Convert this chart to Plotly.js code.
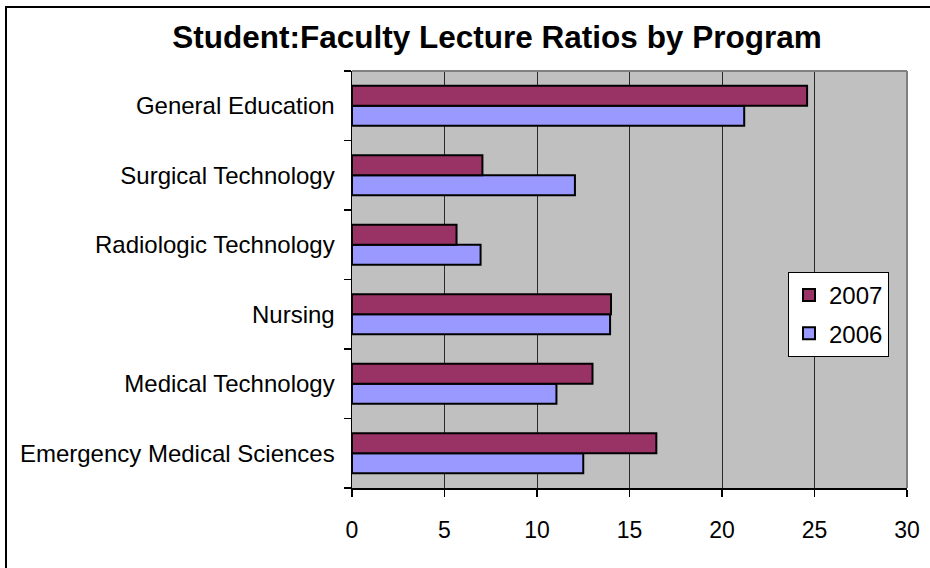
<!DOCTYPE html>
<html>
<head>
<meta charset="utf-8">
<script src="https://cdn.plot.ly/plotly-3.0.1.min.js"></script>
<style>
html,body{margin:0;padding:0;background:#fff;}
#chart{position:absolute;left:0;top:0;width:930px;height:568px;}
#frame{position:absolute;left:5px;top:6px;width:940px;height:580px;border-left:2px solid #000;border-top:2px solid #000;pointer-events:none;}
</style>
</head>
<body>
<div id="chart"></div>
<div id="frame"></div>
<script>
const categories = ["Emergency Medical Sciences","Medical Technology","Nursing","Radiologic Technology","Surgical Technology","General Education"];
const values2006 = [12.5, 11.05, 13.95, 6.95, 12.05, 21.2];
const values2007 = [16.45, 13.0, 14.0, 5.65, 7.05, 24.6];
const xTicks = [0, 5, 10, 15, 20, 25, 30];

const FONT = "'Liberation Sans', Arial, sans-serif";

const traces = [
  {type:'bar', orientation:'h', name:'2006', y:categories, x:values2006,
   legendgroup:'b', legendrank:2,
   marker:{color:'#9999FF', line:{color:'#000', width:2}}},
  {type:'bar', orientation:'h', name:'2007', y:categories, x:values2007,
   legendgroup:'a', legendrank:1,
   marker:{color:'#993366', line:{color:'#000', width:2}}}
];

const layout = {
  width:930, height:568,
  paper_bgcolor:'rgba(0,0,0,0)',
  plot_bgcolor:'#C0C0C0',
  margin:{l:352, r:23, t:71, b:80, pad:0, autoexpand:false},
  barmode:'group',
  bargap:0.425,
  bargroupgap:0,
  font:{family:FONT, color:'#000', size:24},
  title:{text:'<b>Student:Faculty Lecture Ratios by Program</b>',
         font:{family:FONT, size:31.5, color:'#000'},
         xref:'container', yref:'container', x:497/930, y:1-37/568,
         xanchor:'center', yanchor:'middle'},
  xaxis:{range:[0,30], tickvals:xTicks, ticktext:xTicks.map(String),
         showgrid:true, gridcolor:'#2a2a2a', gridwidth:1,
         zeroline:false, showline:true, linecolor:'#000', linewidth:1.5,
         ticks:'outside', ticklen:7, tickcolor:'#000', tickwidth:1.5,
         ticklabelstandoff:14,
         tickfont:{family:FONT, size:23, color:'#000'}, fixedrange:true},
  yaxis:{type:'category', categoryorder:'array', categoryarray:categories,
         showgrid:false, zeroline:false, showline:true, linecolor:'#000', linewidth:1.5,
         ticks:'outside', ticklen:7, tickcolor:'#000', tickwidth:1.5, tickson:'boundaries',
         ticklabelstandoff:11,
         tickfont:{family:FONT, size:24, color:'#000'}, fixedrange:true},
  legend:{x:(788-352)/555, y:1-(272-71)/417, xref:'paper', yref:'paper', xanchor:'left', yanchor:'top',
          bgcolor:'#fff', bordercolor:'#000', borderwidth:1,
          traceorder:'grouped', tracegroupgap:4,
          font:{family:FONT, size:24, color:'#000'},
          itemwidth:30},
  shapes:[
    {type:'line', xref:'paper', yref:'paper', x0:0, x1:1, y0:1, y1:1, line:{color:'#808080', width:2}, layer:'above'},
    {type:'line', xref:'paper', yref:'paper', x0:1, x1:1, y0:0, y1:1, line:{color:'#808080', width:2}, layer:'above'}
  ],
  showlegend:true
};

Plotly.newPlot('chart', traces, layout, {displayModeBar:false, staticPlot:true});
</script>
</body>
</html>
